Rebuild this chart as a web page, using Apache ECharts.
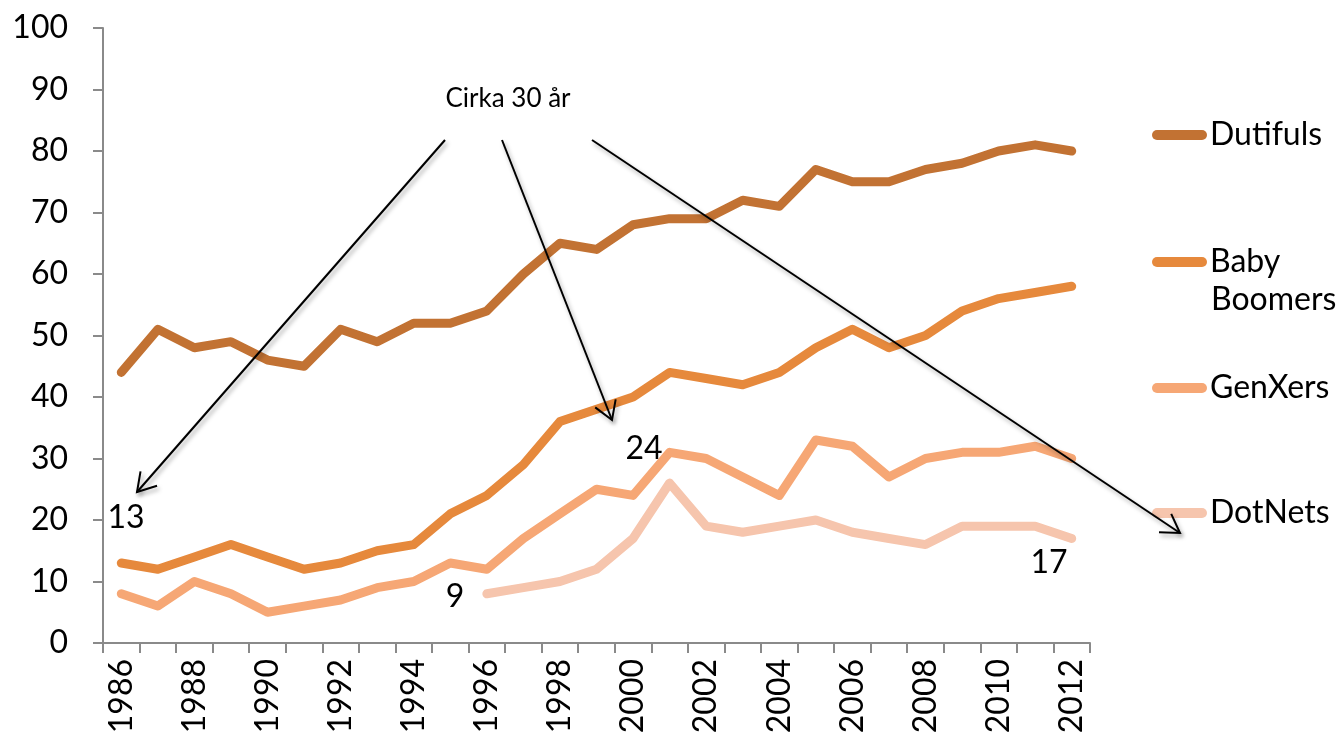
<!DOCTYPE html>
<html>
<head>
<meta charset="utf-8">
<script src="https://cdn.jsdelivr.net/npm/echarts@6/dist/echarts.min.js"></script>
<style>
  html, body { margin: 0; padding: 0; background: #fff; }
  #chart { width: 1343px; height: 740px; }
</style>
</head>
<body>
<div id="chart"></div>
<script>
// data
var years = ["1986", "1987", "1988", "1989", "1990", "1991", "1992", "1993", "1994",
  "1995", "1996", "1997", "1998", "1999", "2000", "2001", "2002", "2003", "2004",
  "2005", "2006", "2007", "2008", "2009", "2010", "2011", "2012"];
var dutifuls = [44, 51, 48, 49, 46, 45, 51, 49, 52, 52, 54, 60, 65, 64, 68, 69, 69, 72, 71,
  77, 75, 75, 77, 78, 80, 81, 80];
var babyBoomers = [13, 12, 14, 16, 14, 12, 13, 15, 16, 21, 24, 29, 36, 38, 40, 44, 43, 42, 44,
  48, 51, 48, 50, 54, 56, 57, 58];
var genXers = [8, 6, 10, 8, 5, 6, 7, 9, 10, 13, 12, 17, 21, 25, 24, 31, 30, 27, 24,
  33, 32, 27, 30, 31, 31, 32, 30];
var dotNets = [null, null, null, null, null, null, null, null, null, null, 8, 9, 10, 12, 17, 26,
  19, 18, 19, 20, 18, 17, 16, 19, 19, 19, 17];
var yTicks = { min: 0, max: 100, interval: 10 };

var FONT = "Lato";
var colors = { Dutifuls: "#C27233", "Baby Boomers": "#E6893C", GenXers: "#F6A775", DotNets: "#F6C5AD" };
var pill = "path://M5,0 L50,0 A5,5 0 0 1 50,10 L5,10 A5,5 0 0 1 5,0 Z";

function line(name, data) {
  return {
    name: name,
    type: "line",
    data: data,
    color: colors[name],
    showSymbol: false,
    connectNulls: false,
    silent: true,
    lineStyle: { width: 9, color: colors[name], cap: "round", join: "round" }
  };
}

// one legend per series so each can sit where the original has it
function legendFor(name, top, formatter) {
  var l = {
    data: [name],
    left: 1147,
    top: top,
    icon: pill,
    itemWidth: 55,
    itemHeight: 10,
    itemGap: 0,
    selectedMode: false,
    textStyle: { fontFamily: FONT, fontSize: 32, color: "#000", lineHeight: 36, padding: [0, 0, 0, -2] }
  };
  if (formatter) l.formatter = formatter;
  return l;
}

// open V arrow
function arrow(x1, y1, x2, y2) {
  var a = Math.atan2(y1 - y2, x1 - x2);
  var len = 21, sp = 0.55;
  var p1 = [x2 + len * Math.cos(a - sp), y2 + len * Math.sin(a - sp)];
  var p2 = [x2 + len * Math.cos(a + sp), y2 + len * Math.sin(a + sp)];
  var st = { stroke: "#000", lineWidth: 2, fill: null,
    shadowBlur: 4, shadowColor: "rgba(0,0,0,0.35)", shadowOffsetX: 2, shadowOffsetY: 3 };
  return [
    { type: "line", z: 100, shape: { x1: x1, y1: y1, x2: x2, y2: y2 }, style: st },
    { type: "polyline", z: 100, shape: { points: [p1, [x2, y2], p2] }, style: st }
  ];
}

function note(text, x, y, size, align) {
  return { type: "text", z: 100, x: x, y: y,
    style: { text: text, fontFamily: FONT, fontSize: size, fill: "#000",
      align: align || "center", verticalAlign: "middle" } };
}

var chart = echarts.init(document.getElementById("chart"));

var option = {
  animation: false,
  grid: { left: 103, right: 253, top: 28, bottom: 97 },
  legend: [
    legendFor("Dutifuls", 112),
    legendFor("Baby Boomers", 239, "Baby"),
    legendFor("GenXers", 365),
    legendFor("DotNets", 490)
  ],
  xAxis: {
    type: "category",
    data: years,
    boundaryGap: true,
    axisLine: { lineStyle: { color: "#8a8a8a", width: 2 } },
    axisTick: { show: true, interval: 0, length: 10, lineStyle: { color: "#8a8a8a", width: 2 } },
    axisLabel: { interval: 1, rotate: 90, margin: 16, fontFamily: FONT, fontSize: 32, color: "#000" },
    splitLine: { show: false }
  },
  yAxis: {
    type: "value",
    min: yTicks.min,
    max: yTicks.max,
    interval: yTicks.interval,
    axisLine: { show: true, lineStyle: { color: "#8a8a8a", width: 2 } },
    axisTick: { show: true, length: 10, lineStyle: { color: "#8a8a8a", width: 2 } },
    axisLabel: { margin: 35, fontFamily: FONT, fontSize: 32, color: "#000" },
    splitLine: { show: false }
  },
  series: [
    line("Dutifuls", dutifuls),
    line("Baby Boomers", babyBoomers),
    line("GenXers", genXers),
    line("DotNets", dotNets)
  ],
  graphic: [].concat(
    arrow(445, 140, 137, 492),
    arrow(502, 140, 612, 420),
    arrow(592, 140, 1180, 533),
    [
      note("Boomers", 1211, 300, 32, "left"),
      note("Cirka 30 år", 508, 99, 26),
      note("13", 126, 518, 32),
      note("24", 644, 449, 32),
      note("9", 455, 597, 32),
      note("17", 1049, 563, 32)
    ]
  )
};

chart.setOption(option);
</script>
</body>
</html>
